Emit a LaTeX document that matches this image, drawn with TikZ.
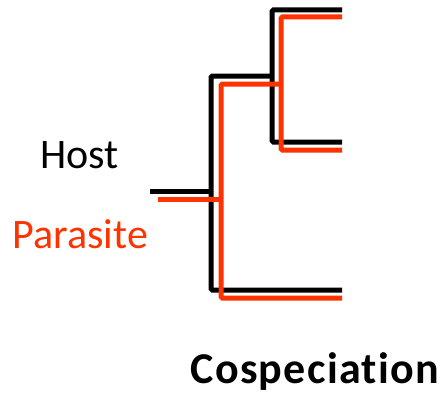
\documentclass[tikz,border=0pt]{standalone}
\usepackage{fontspec}
\setmainfont{Carlito}[Ligatures=NoCommon]
\usepackage{tikz}
\usetikzlibrary{positioning}

\definecolor{parasitered}{RGB}{255,51,0}

\begin{document}
\begin{tikzpicture}[x=1pt, y=-1pt, line width=5pt, rounded corners=1.5pt]
    \useasboundingbox (0,0) rectangle (446,396);

    % Define coordinates of the host tree
    \coordinate (hroot) at (150,191);
    \coordinate (hbase) at (211,191);
    \coordinate (hsplit) at (272,76);
    \coordinate (hA) at (342,10);
    \coordinate (hB) at (342,142);
    \coordinate (hC) at (342,290);

    % Define coordinates of the parasite tree
    \coordinate (proot) at (158,199);
    \coordinate (pbase) at (221,199);
    \coordinate (psplit) at (281,84);
    \coordinate (pA) at (342,17);
    \coordinate (pB) at (342,150);
    \coordinate (pC) at (342,298);

    % Host tree
    \draw[black] (hroot) -- (hbase);
    \draw[black] (hsplit) -- (hbase |- hsplit) -- (hbase |- hC) -- (hC);
    \draw[black] (hA) -- (hsplit |- hA) -- (hsplit |- hB) -- (hB);

    % Parasite tree
    \draw[parasitered] (proot) -- (pbase);
    \draw[parasitered] (psplit) -- (pbase |- psplit) -- (pbase |- pC) -- (pC);
    \draw[parasitered] (pA) -- (psplit |- pA) -- (psplit |- pB) -- (pB);

    % Labels
    \node[anchor=base west, inner sep=0pt, font=\fontsize{42}{42}\selectfont] (host) at (38,168) {Host};
    \node[anchor=base west, inner sep=0pt, font=\fontsize{42}{42}\selectfont, text=parasitered] (parasite) at (10,248) {Parasite};
    \node[anchor=base west, inner sep=0pt, font=\fontsize{44}{44}\selectfont\bfseries\addfontfeatures{LetterSpace=3}] (title) at (188,383) {Cospeciation};
\end{tikzpicture}
\end{document}
